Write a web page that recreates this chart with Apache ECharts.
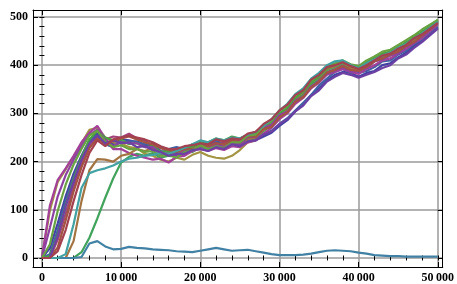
<!DOCTYPE html>
<html>
<head>
<meta charset="utf-8">
<script src="https://cdn.jsdelivr.net/npm/echarts@6/dist/echarts.min.js"></script>
<style>
  html, body { margin: 0; padding: 0; background: #fff; }
  #chart { width: 457px; height: 284px; }
</style>
</head>
<body>
<div id="chart"></div>
<script>
// sample positions (x), one every 1000
const xs = [0, 1000, 2000, 3000, 4000, 5000, 6000, 7000, 8000, 9000,
  10000, 11000, 12000, 13000, 14000, 15000, 16000, 17000, 18000, 19000,
  20000, 21000, 22000, 23000, 24000, 25000, 26000, 27000, 28000, 29000,
  30000, 31000, 32000, 33000, 34000, 35000, 36000, 37000, 38000, 39000,
  40000, 41000, 42000, 43000, 44000, 45000, 46000, 47000, 48000, 49000, 50000];

const run01 = [0, 20, 72, 128, 175, 212, 245, 258, 242, 236, 246, 244, 240, 232, 234, 222, 220, 226, 222, 232, 236, 230, 240, 236, 242, 238, 246, 244, 252, 260, 274, 286, 304, 318, 338, 352, 368, 380, 386, 384, 376, 384, 388, 400, 404, 416, 426, 440, 452, 466, 478];
const run02 = [0, 0, 38, 92, 148, 195, 232, 252, 246, 252, 250, 258, 248, 244, 232, 230, 220, 228, 224, 236, 240, 232, 242, 238, 246, 244, 254, 256, 270, 278, 296, 306, 326, 338, 358, 370, 386, 392, 400, 392, 394, 398, 412, 416, 426, 430, 444, 450, 466, 474, 490];
const run03 = [0, 98, 158, 184, 210, 238, 266, 270, 250, 240, 238, 230, 228, 216, 212, 204, 200, 208, 204, 214, 220, 212, 208, 206, 212, 224, 240, 244, 264, 274, 296, 308, 332, 342, 366, 376, 394, 398, 408, 396, 394, 404, 418, 418, 430, 432, 448, 452, 468, 476, 492];
const run04 = [0, 0, 0, 0, 0, 12, 42, 82, 125, 165, 198, 210, 216, 212, 218, 208, 212, 210, 218, 220, 230, 226, 232, 228, 236, 234, 244, 248, 264, 276, 296, 310, 330, 340, 360, 374, 390, 396, 404, 394, 396, 402, 416, 418, 428, 434, 448, 454, 470, 478, 492];
const run05 = [0, 8, 58, 118, 168, 208, 242, 255, 236, 230, 242, 242, 242, 236, 238, 228, 226, 230, 226, 234, 238, 236, 244, 232, 240, 236, 248, 248, 256, 264, 278, 290, 306, 322, 338, 358, 372, 386, 392, 384, 384, 388, 396, 408, 410, 422, 430, 444, 454, 468, 480];
const run06 = [0, 108, 162, 186, 212, 240, 260, 274, 248, 226, 226, 218, 212, 208, 204, 206, 198, 210, 212, 222, 226, 222, 228, 224, 232, 230, 240, 244, 258, 270, 288, 300, 320, 332, 352, 364, 380, 386, 392, 386, 382, 392, 400, 410, 414, 424, 434, 446, 456, 470, 484];
const run07 = [0, 0, 0, 0, 35, 118, 182, 205, 204, 200, 212, 216, 226, 222, 228, 218, 218, 214, 224, 226, 234, 228, 236, 232, 240, 236, 246, 250, 266, 276, 298, 308, 330, 344, 364, 376, 392, 398, 406, 394, 390, 402, 410, 420, 420, 432, 440, 452, 460, 474, 486];
const run08 = [0, 4, 48, 108, 162, 208, 246, 264, 250, 244, 246, 236, 238, 230, 232, 220, 222, 218, 230, 230, 242, 240, 248, 244, 252, 248, 256, 258, 274, 282, 300, 312, 332, 346, 364, 378, 394, 402, 408, 400, 396, 406, 414, 424, 428, 438, 446, 460, 468, 482, 494];
const run09 = [0, 0, 0, 0, 0, 2, 30, 35, 24, 18, 19, 23, 21, 20, 18, 17, 16, 14, 13, 12, 15, 18, 21, 18, 15, 16, 17, 14, 11, 8, 6, 6, 6, 7, 9, 12, 15, 16, 15, 14, 11, 9, 6, 5, 4, 4, 3, 3, 3, 3, 3];
const run10 = [0, 62, 128, 172, 204, 232, 256, 266, 244, 232, 240, 238, 238, 230, 230, 216, 216, 212, 222, 222, 232, 228, 236, 230, 238, 236, 250, 252, 270, 276, 296, 304, 326, 334, 356, 366, 382, 388, 396, 386, 388, 394, 408, 412, 420, 424, 438, 446, 460, 472, 486];
const run11 = [0, 0, 22, 78, 138, 188, 228, 248, 238, 242, 248, 252, 246, 240, 236, 228, 224, 220, 226, 226, 234, 232, 238, 236, 244, 240, 252, 252, 268, 272, 292, 302, 324, 334, 354, 366, 384, 390, 398, 390, 388, 396, 408, 414, 422, 428, 440, 448, 462, 474, 488];
const run12 = [0, 28, 98, 152, 194, 226, 254, 264, 242, 230, 234, 226, 226, 220, 222, 212, 214, 208, 220, 224, 234, 226, 232, 228, 240, 240, 254, 256, 274, 284, 306, 316, 338, 350, 368, 382, 398, 404, 410, 402, 398, 410, 418, 428, 432, 442, 452, 462, 474, 484, 494];
const run13 = [0, 0, 0, 8, 70, 145, 176, 182, 186, 192, 200, 206, 208, 212, 214, 218, 216, 222, 228, 236, 244, 240, 248, 244, 250, 248, 256, 262, 274, 288, 306, 320, 340, 352, 372, 384, 400, 408, 410, 400, 394, 404, 412, 420, 426, 436, 444, 456, 466, 478, 490];
const run14 = [0, 0, 46, 108, 158, 204, 238, 254, 238, 244, 238, 240, 230, 232, 224, 220, 212, 216, 216, 224, 226, 222, 230, 226, 236, 232, 242, 244, 256, 262, 278, 288, 304, 316, 336, 348, 366, 376, 384, 380, 374, 380, 386, 394, 400, 414, 422, 436, 448, 462, 476];
const run15 = [0, 0, 14, 58, 118, 172, 218, 244, 232, 246, 250, 254, 250, 246, 240, 232, 226, 226, 232, 234, 238, 236, 246, 242, 248, 246, 258, 262, 278, 288, 306, 318, 338, 348, 370, 380, 396, 400, 406, 398, 392, 400, 410, 420, 424, 434, 442, 456, 464, 476, 488];

const runs = [run01, run02, run03, run04, run05, run06, run07, run08,
  run09, run10, run11, run12, run13, run14, run15];

const colors = ['#4341a3', '#a3417a', '#a39441', '#41a35c', '#4160a3',
  '#a34199', '#a37441', '#48a341', '#4181a3', '#8d41a3', '#a35341',
  '#69a341', '#41a1a3', '#6c41a3', '#a34150'];

// frame ticks
const xMajor = [0, 10000, 20000, 30000, 40000, 50000];
const xMinor = [0, 2000, 4000, 6000, 8000, 12000, 14000, 16000, 18000, 22000, 24000, 26000, 28000,
  32000, 34000, 36000, 38000, 42000, 44000, 46000, 48000, 50000];
const yMajor = [0, 100, 200, 300, 400, 500];
const yMinor = [0, 20, 40, 60, 80, 120, 140, 160, 180, 220, 240, 260, 280,
  320, 340, 360, 380, 420, 440, 460, 480, 500];

const xMin = -1125, xMax = 50625;
const yMin = -18.7, yMax = 514.5;

const labelStyle = {
  color: '#000',
  fontFamily: 'Liberation Serif',
  fontWeight: 'bold',
  fontSize: 12
};

function fmtX(v) {
  if (v === 0) return '0';
  const s = String(v);
  return s.slice(0, s.length - 3) + '\u2009' + s.slice(-3);
}

function frameAxis(pos, lo, hi, major, minor, withLabels, formatter, grid) {
  const main = {
    type: 'value', position: pos, min: lo, max: hi,
    axisLine: { show: true, onZero: false, lineStyle: { color: '#000', width: 1 } },
    axisTick: { show: true, inside: true, length: 5, customValues: major, lineStyle: { color: '#000', width: 1 } },
    axisLabel: withLabels
      ? Object.assign({ show: true, customValues: major, margin: 5, formatter: formatter }, labelStyle)
      : { show: false },
    splitLine: grid
      ? { show: true, lineStyle: { color: '#9a9a9a', width: 1.5 } }
      : { show: false }
  };
  const small = {
    type: 'value', position: pos, min: lo, max: hi,
    axisLine: { show: false },
    axisTick: { show: true, inside: true, length: 2.5, customValues: minor, lineStyle: { color: '#000', width: 1 } },
    axisLabel: { show: false },
    splitLine: { show: false }
  };
  return [main, small];
}

const chart = echarts.init(document.getElementById('chart'));

chart.setOption({
  animation: false,
  backgroundColor: '#fff',
  grid: { left: 33, right: 10, top: 10, bottom: 17, containLabel: false },
  xAxis: [].concat(
    frameAxis('bottom', xMin, xMax, xMajor, xMinor, true, fmtX, true),
    frameAxis('top', xMin, xMax, xMajor, xMinor, false, null, false)
  ),
  yAxis: [].concat(
    frameAxis('left', yMin, yMax, yMajor, yMinor, true, v => String(v), true),
    frameAxis('right', yMin, yMax, yMajor, yMinor, false, null, false)
  ),
  series: runs.map((ys, i) => ({
    type: 'line',
    xAxisIndex: 0,
    yAxisIndex: 0,
    data: xs.map((x, j) => [x, ys[j]]),
    symbol: 'none',
    lineStyle: { color: colors[i], width: 2.2 },
    z: 3 + i
  }))
});
</script>
</body>
</html>
